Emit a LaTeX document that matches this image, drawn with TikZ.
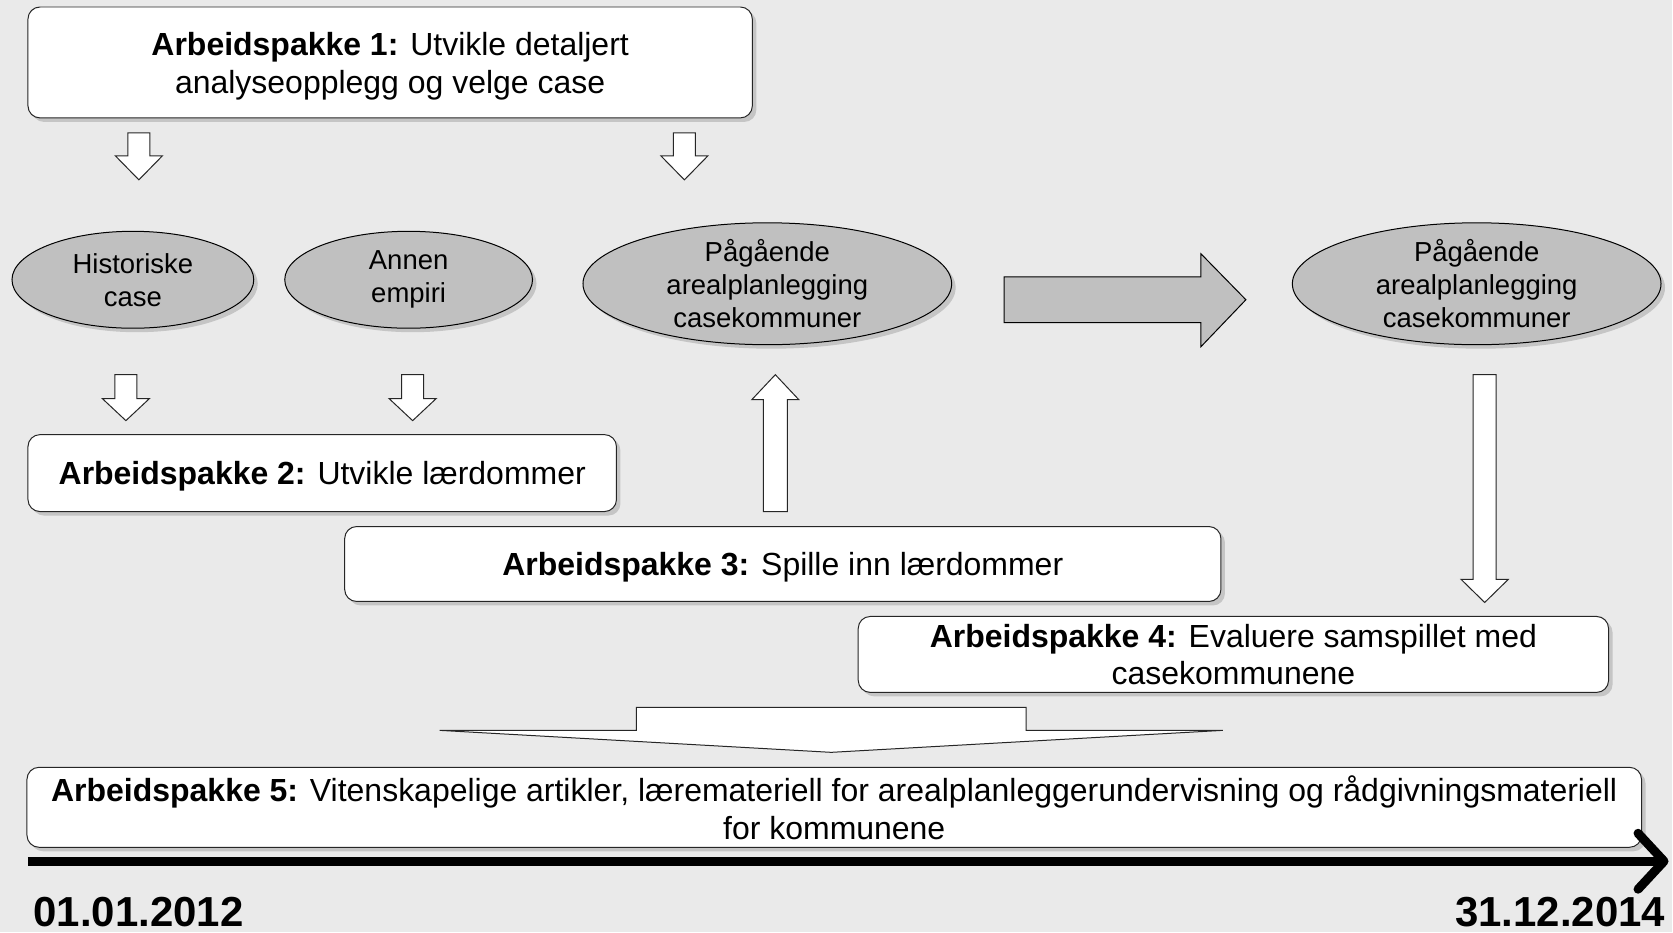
\documentclass[tikz,border=0pt]{standalone}
\usepackage{fontspec}
\setmainfont{Liberation Sans}
\usetikzlibrary{shadows,shapes.geometric,arrows.meta}
\definecolor{bakgrunn}{HTML}{EAEAEA}
\definecolor{kildegraa}{HTML}{C0C0C0}
\tikzset{
  skygge/.style={drop shadow={shadow xshift=2pt, shadow yshift=-2pt, opacity=0.35}},
  pakke/.style={draw=black!85, fill=white, rounded corners=6pt, line width=0.5pt,
    align=center, inner sep=0pt, text depth=0pt, font=\fontsize{16}{19}\selectfont, skygge},
  kilde/.style={ellipse, draw=black, fill=kildegraa, line width=0.5pt, align=center,
    inner sep=0pt, inner ysep=-2pt, font=\fontsize{13.75}{16.5}\selectfont, skygge},
  hulpil/.style={draw=black!85, fill=white, line width=0.5pt},
  graapil/.style={draw=black, fill=kildegraa, line width=0.5pt},
  tidslinje/.style={line width=4.5pt, -{Straight Barb[length=13pt, width=28pt, round]}},
  dato/.style={font=\bfseries\fontsize{21}{25}\selectfont, inner sep=0pt}
}
\newcommand{\blokkpil}[6]{%
  \draw[hulpil] ({#1-#5},#2) -- ({#1+#5},#2) -- ({#1+#5},#3) -- ({#1+#6},#3)
    -- (#1,#4) -- ({#1-#6},#3) -- ({#1-#5},#3) -- cycle;}

\begin{document}
\begin{tikzpicture}[x=0.5pt, y=-0.5pt]
\fill[bakgrunn] (0,0) rectangle (1673,933);

\node[pakke, minimum width=362.5pt, minimum height=55.5pt] (ap1) at (390.5,62.5)
  {\textbf{Arbeidspakke 1:} Utvikle detaljert\\analyseopplegg og velge case};
\node[pakke, minimum width=294.5pt, minimum height=38.5pt] (ap2) at (322.5,473.5)
  {\textbf{Arbeidspakke 2:} Utvikle lærdommer};
\node[pakke, minimum width=438.5pt, minimum height=37.5pt] (ap3) at (783.5,564.5)
  {\textbf{Arbeidspakke 3:} Spille inn lærdommer};
\node[pakke, minimum width=375.5pt, minimum height=38pt] (ap4) at (1234.5,655)
  {\textbf{Arbeidspakke 4:} Evaluere samspillet med\\casekommunene};
\node[pakke, minimum width=808pt, minimum height=40pt] (ap5) at (835,808)
  {\textbf{Arbeidspakke 5:} Vitenskapelige artikler, læremateriell for arealplanleggerundervisning og rådgivningsmateriell\\for kommunene};

\node[kilde, minimum width=121pt, minimum height=48.5pt] (historisk) at (133,280) {Historiske\\case};
\node[kilde, minimum width=124pt, minimum height=48.5pt] (empiri) at (409,280) {Annen\\empiri};
\node[kilde, minimum width=184.5pt, minimum height=61pt] (pagaende) at (768,284)
  {Pågående\\arealplanlegging\\casekommuner};
\node[kilde, minimum width=184.5pt, minimum height=61pt] (pagaendeB) at (1478,284)
  {Pågående\\arealplanlegging\\casekommuner};

\blokkpil{139}{133}{156}{180}{11}{23.5}
\blokkpil{685}{133}{156}{180}{11}{23.5}
\blokkpil{126}{375}{399}{421}{11}{23.5}
\blokkpil{413}{375}{399}{421}{11}{23.5}
\blokkpil{776}{512}{400}{375}{12}{23.5}
\blokkpil{1486}{375}{580}{603}{11.5}{23.5}
\blokkpil{832}{708}{731}{753}{195}{392}
\draw[graapil] (1005,277) -- (1202,277) -- (1202,254) -- (1247,300) -- (1202,347)
  -- (1202,323) -- (1005,323) -- cycle;

\coordinate (tstart) at (28,862);
\coordinate (tslutt) at (1670,862);
\draw[tidslinje] (tstart) -- (tslutt);
\node[dato, anchor=base west] (startdato) at (33,927) {01.01.2012};
\node[dato, anchor=base east] (sluttdato) at (1667,927) {31.12.2014};
\end{tikzpicture}
\end{document}
